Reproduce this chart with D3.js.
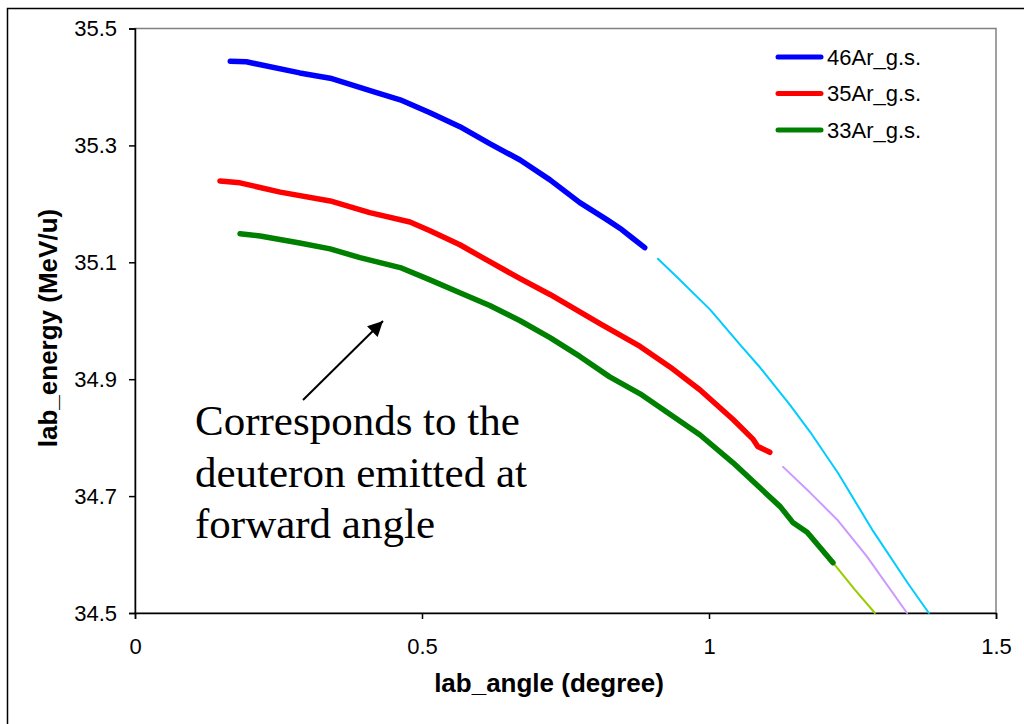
<!DOCTYPE html>
<html>
<head>
<meta charset="utf-8">
<script src="https://cdn.jsdelivr.net/npm/d3@7"></script>
<style>
  body { margin: 0; background: #fff; }
  svg { display: block; font-family: "Liberation Sans", Arial, sans-serif; }
</style>
</head>
<body>
<div id="chart"></div>
<script>
// series: [lab_angle, lab_energy]
var ar46 = [[0.166, 35.444], [0.194, 35.443], [0.287, 35.424], [0.340, 35.415], [0.418, 35.391],
  [0.462, 35.378], [0.514, 35.356], [0.566, 35.332], [0.618, 35.303], [0.671, 35.275],
  [0.723, 35.241], [0.775, 35.202], [0.822, 35.173], [0.848, 35.156], [0.866, 35.142], [0.888, 35.125]];
var ar46Tail = [[0.911, 35.106], [0.949, 35.070], [1.002, 35.019], [1.054, 34.959], [1.089, 34.920],
  [1.141, 34.856], [1.176, 34.810], [1.225, 34.739], [1.286, 34.640], [1.347, 34.550], [1.383, 34.500]];

var ar35 = [[0.148, 35.239], [0.183, 35.236], [0.253, 35.220], [0.340, 35.205], [0.409, 35.185],
  [0.479, 35.169], [0.514, 35.154], [0.566, 35.130], [0.618, 35.101], [0.671, 35.072],
  [0.723, 35.045], [0.810, 34.995], [0.880, 34.956], [0.932, 34.921], [0.984, 34.882],
  [1.042, 34.831], [1.077, 34.797], [1.085, 34.785], [1.106, 34.775]];
var ar35Tail = [[1.129, 34.750], [1.176, 34.706], [1.223, 34.660], [1.275, 34.597], [1.345, 34.500]];

var ar33 = [[0.183, 35.149], [0.218, 35.145], [0.287, 35.133], [0.340, 35.123], [0.392, 35.108],
  [0.462, 35.091], [0.514, 35.070], [0.566, 35.048], [0.618, 35.026], [0.671, 35.000],
  [0.723, 34.971], [0.775, 34.939], [0.827, 34.904], [0.880, 34.875], [0.932, 34.840],
  [0.984, 34.805], [1.042, 34.757], [1.124, 34.682], [1.146, 34.655], [1.171, 34.638], [1.216, 34.586]];
var ar33Tail = [[1.216, 34.586], [1.254, 34.540], [1.289, 34.500]];

var seriesNames = ["46Ar_g.s.", "35Ar_g.s.", "33Ar_g.s."];
var xTicks = [0, 0.5, 1, 1.5];
var yTicks = [34.5, 34.7, 34.9, 35.1, 35.3, 35.5];
var noteLines = ["Corresponds to the", "deuteron emitted at", "forward angle"];

var width = 1024,
  height = 724,
  margin = {top: 28.5, right: 28, bottom: 111, left: 135};

var svg = d3.select("#chart")
  .append("svg")
  .attr("width", width)
  .attr("height", height);

// outer frame, runs off the right and bottom edges
svg.append("rect")
  .attr("x", 7.5).attr("y", 8.5)
  .attr("width", 1030).attr("height", 730)
  .attr("fill", "none").attr("stroke", "#000").attr("stroke-width", 1.5);

var x = d3.scaleLinear().domain([0, 1.5]).range([margin.left, width - margin.right]);
var y = d3.scaleLinear().domain([34.5, 35.5]).range([height - margin.bottom, margin.top]);

// plot area border (grey top/right)
svg.append("rect")
  .attr("x", x(0)).attr("y", y(35.5))
  .attr("width", x(1.5) - x(0)).attr("height", y(34.5) - y(35.5))
  .attr("fill", "none").attr("stroke", "#808080").attr("stroke-width", 1.5);

var xAxis = svg.append("g")
  .attr("transform", "translate(0," + y(34.5) + ")")
  .call(d3.axisBottom(x).tickValues(xTicks).tickSize(6).tickPadding(19).tickFormat(d3.format("")));
var yAxis = svg.append("g")
  .attr("transform", "translate(" + x(0) + ",0)")
  .call(d3.axisLeft(y).tickValues(yTicks).tickSize(6).tickPadding(12).tickFormat(d3.format(".1f")));

[xAxis, yAxis].forEach(function(a) {
  a.select(".domain").attr("stroke", "#000").attr("stroke-width", 1.5);
  a.selectAll(".tick line").attr("stroke", "#000").attr("stroke-width", 1.5);
  a.selectAll(".tick text").attr("font-size", 22).attr("fill", "#000")
    .attr("font-family", "Liberation Sans, Arial, sans-serif");
});

svg.append("text")
  .attr("x", 549).attr("y", 692)
  .attr("text-anchor", "middle")
  .attr("font-size", 26).attr("font-weight", "bold")
  .text("lab_angle (degree)");

svg.append("text")
  .attr("transform", "translate(57,328) rotate(-90)")
  .attr("text-anchor", "middle")
  .attr("font-size", 26).attr("font-weight", "bold")
  .text("lab_energy (MeV/u)");

var line = d3.line()
  .x(function(d) { return x(d[0]); })
  .y(function(d) { return y(d[1]); });

var curves = [
  {data: ar46Tail, color: "#00CCFF", w: 2},
  {data: ar35Tail, color: "#CC99FF", w: 2},
  {data: ar33Tail, color: "#99CC00", w: 2},
  {data: ar46, color: "#0000FF", w: 5.5},
  {data: ar35, color: "#FF0000", w: 5.5},
  {data: ar33, color: "#008000", w: 5.5}
];

svg.selectAll("path.curve")
  .data(curves)
  .enter().append("path")
  .attr("class", "curve")
  .attr("d", function(d) { return line(d.data); })
  .attr("fill", "none")
  .attr("stroke", function(d) { return d.color; })
  .attr("stroke-width", function(d) { return d.w; })
  .attr("stroke-linecap", "round")
  .attr("stroke-linejoin", "round");

// legend
var legendColor = d3.scaleOrdinal().domain(seriesNames).range(["#0000FF", "#FF0000", "#008000"]);
var lg = svg.selectAll("g.legend")
  .data(seriesNames)
  .enter().append("g")
  .attr("class", "legend")
  .attr("transform", function(d, i) { return "translate(778," + (57 + i * 36.5) + ")"; });
lg.append("line")
  .attr("x1", 0).attr("x2", 43)
  .attr("stroke", function(d) { return legendColor(d); })
  .attr("stroke-width", 5).attr("stroke-linecap", "round");
lg.append("text")
  .attr("x", 49).attr("dy", "0.35em")
  .attr("font-size", 22)
  .text(function(d) { return d; });

// annotation
svg.append("defs").append("marker")
  .attr("id", "head")
  .attr("viewBox", "0 0 10 10")
  .attr("refX", 10).attr("refY", 5)
  .attr("markerWidth", 19).attr("markerHeight", 15)
  .attr("markerUnits", "userSpaceOnUse")
  .attr("orient", "auto")
  .append("path").attr("d", "M0,0 L10,5 L0,10 z").attr("fill", "#000");

svg.append("line")
  .attr("x1", 303).attr("y1", 400)
  .attr("x2", 383).attr("y2", 321)
  .attr("stroke", "#000").attr("stroke-width", 2)
  .attr("marker-end", "url(#head)");

svg.append("g").selectAll("text")
  .data(noteLines)
  .enter().append("text")
  .attr("x", 195)
  .attr("y", function(d, i) { return 435 + i * 51.5; })
  .attr("font-family", "Liberation Serif, Times New Roman, serif")
  .attr("font-size", 43)
  .text(function(d) { return d; });
</script>
</body>
</html>
